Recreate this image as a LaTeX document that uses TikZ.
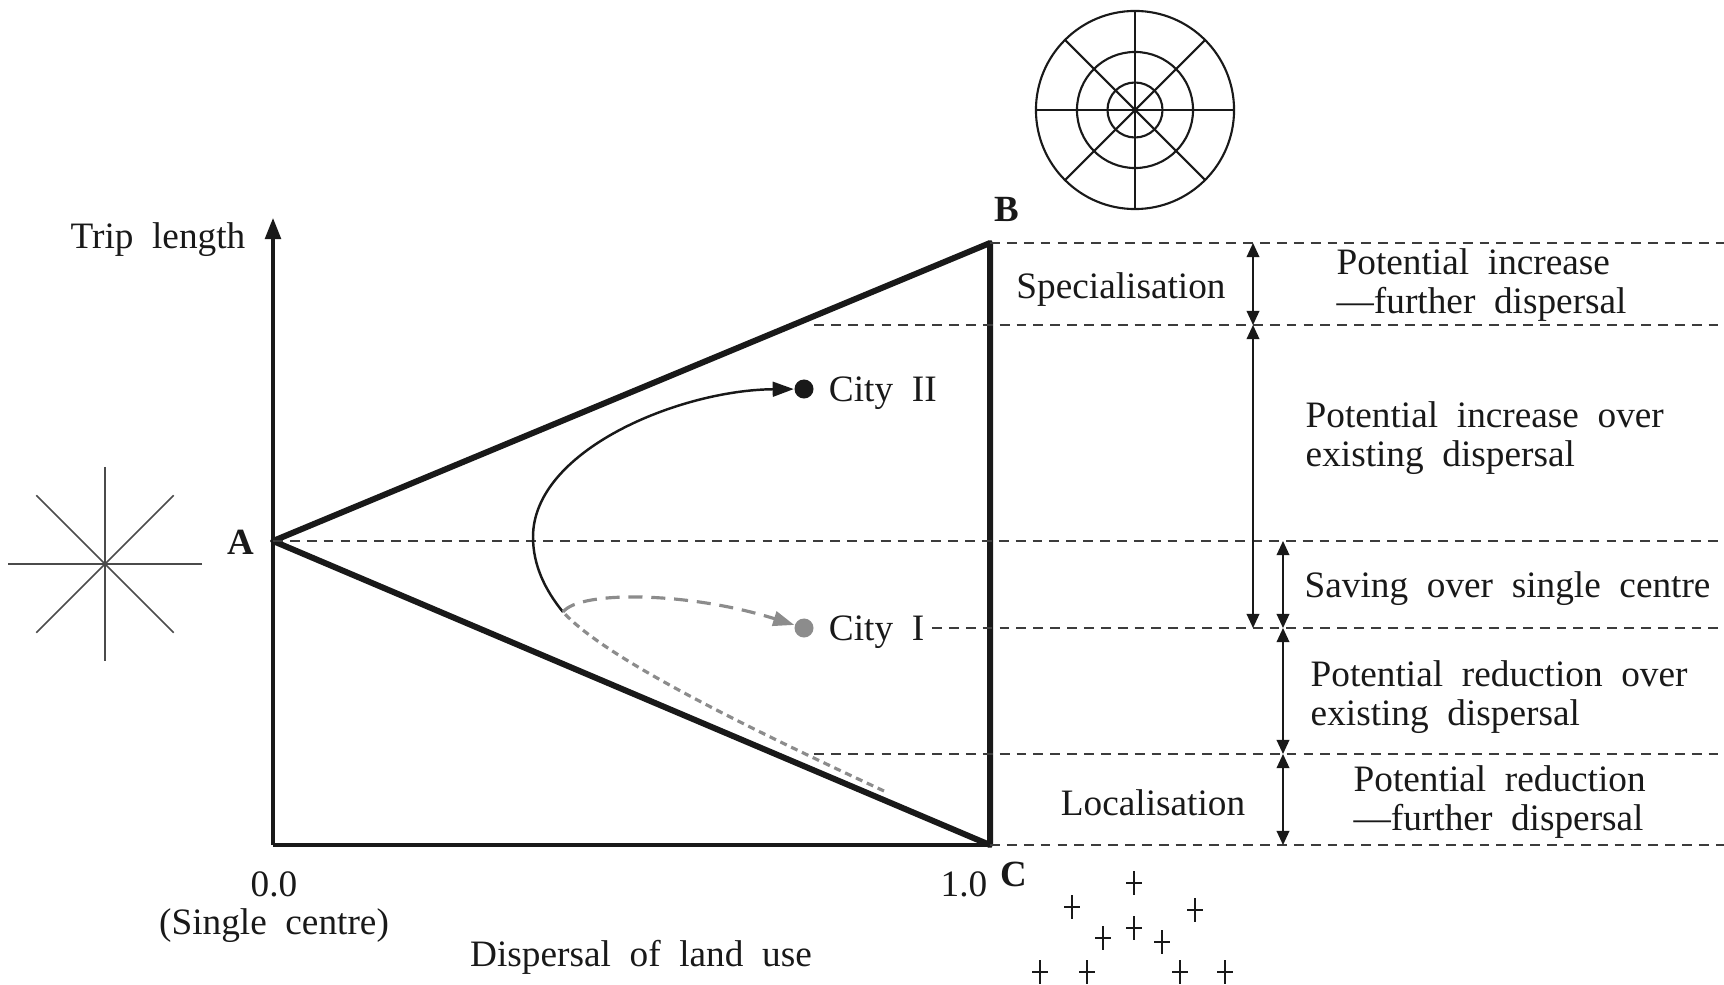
\documentclass[tikz,border=0pt]{standalone}
\usepackage{fontspec}
\setmainfont{Liberation Serif}[WordSpace=2]
\usepackage{xcolor}
\definecolor{figblack}{RGB}{25,25,25}
\definecolor{figgray}{RGB}{140,140,140}
\definecolor{figstar}{RGB}{75,75,75}
\usetikzlibrary{arrows.meta,positioning,calc}

\begin{document}
\begin{tikzpicture}[x=0.01cm, y=-0.01cm,
  lbl/.style={font=\fontsize{10.6}{11}\selectfont, inner sep=0pt, text=figblack, yshift=-1.1pt},
  corner/.style={font=\fontsize{10.5}{12}\selectfont\bfseries, inner sep=0pt, text=figblack},
  side/.style={draw=figblack, line width=1.7pt, line join=round},
  axis/.style={draw=figblack, line width=0.9pt},
  guide/.style={draw=figblack!85, line width=0.45pt, dash pattern=on 2.8pt off 2pt},
  span/.style={draw=figblack, line width=0.45pt, {Triangle[length=4pt,width=3.6pt]}-{Triangle[length=4pt,width=3.6pt]}},
  flow/.style={line width=0.7pt, -{Triangle[length=6pt,width=4.2pt]}},
  city/.style={circle, inner sep=0pt, minimum size=0.19cm},
  ]
  \useasboundingbox (0,0) rectangle (1724,985);

  % corners and levels
  \coordinate (A) at (273,541);
  \coordinate (B) at (990,243);
  \coordinate (C) at (990,845);
  \coordinate (O) at (273,845);
  \coordinate (top) at (273,218);
  \coordinate (E) at (1724,0);
  \coordinate (S) at (814,325);
  \coordinate (L) at (814,754);
  \coordinate (m1) at (1253,0);
  \coordinate (m2) at (1283,0);
  \coordinate (turn) at (563,612);
  \coordinate (tail) at (884,791);

  % axes and triangle
  \draw[axis, -{Triangle[length=6pt,width=4.5pt]}] (O) -- (top);
  \draw[axis] (O) -- (C);
  \draw[side] (A) -- (B) -- (C) -- cycle;

  % cities
  \node[city, fill=figblack] (dotII) at (804,389) {};
  \node[city, fill=figgray] (dotI) at (804,628) {};
  \node[lbl, right=4pt of dotII] (cityII) {City II};
  \node[lbl, right=4pt of dotI] (cityI) {City I};

  % dashed levels
  \draw[guide] (B) -- (B -| E);
  \draw[guide] (S) -- (S -| E);
  \draw[guide] (A) -- (A -| E);
  \draw[guide] ([xshift=2pt]cityI.east |- dotI) -- (dotI -| E);
  \draw[guide] (L) -- (L -| E);
  \draw[guide] (C) -- (C -| E);

  % spans
  \draw[span] (B -| m1) -- (S -| m1);
  \draw[span] (S -| m1) -- (dotI -| m1);
  \draw[span] (A -| m2) -- (dotI -| m2);
  \draw[span] (dotI -| m2) -- (L -| m2);
  \draw[span] (L -| m2) -- (C -| m2);

  % paths
  \draw[flow, figblack] (turn) .. controls (545,590) and (533,565) .. (533,537) .. controls (533,450) and (680,390) .. (dotII);
  \draw[figgray, line width=0.9pt, dash pattern=on 2pt off 1.4pt] (tail) .. controls (705,708) and (600,652) .. (turn);
  \draw[flow, figgray, line width=0.9pt, dash pattern=on 4pt off 2.5pt] (turn) .. controls (580,590) and (690,592) .. (dotI);

  % radial city
  \begin{scope}[shift={(1135,110)}, line width=0.6pt, figblack]
    \draw (0,0) circle (0.99cm) (0,0) circle (0.58cm) (0,0) circle (0.275cm);
    \foreach \a in {0,45,...,135}
      \draw (\a:0.99cm) -- (\a+180:0.99cm);
  \end{scope}

  % single centre star
  \begin{scope}[shift={(105,564)}, line width=0.5pt, figstar]
    \foreach \a in {0,45,...,135}
      \draw (\a:0.97cm) -- (\a+180:0.97cm);
  \end{scope}

  % scattered centres
  \foreach \x/\y in {1134/883, 1072/907, 1195/910, 1103/938, 1134/928, 1162/942, 1040/972, 1087/972, 1180/972, 1225/972}
    \draw[line width=0.6pt, figblack] (\x,\y) ++(-8,0) -- ++(16,0) (\x,\y) ++(0,-12) -- ++(0,24);

  % labels
  \node[lbl, anchor=east] (ylab) at (246,236) {Trip length};
  \node[corner] (lblA) at (241,542) {A};
  \node[corner] (lblB) at (1007,209) {B};
  \node[corner] (lblC) at (1014,874) {C};
  \node[lbl] (zero) at (274,880) {0.0};
  \node[lbl] (single) at (274,922) {(Single centre)};
  \node[lbl] (one) at (964,880) {1.0};
  \node[lbl] (xlab) at (641,953) {Dispersal of land use};
  \node[lbl] (spec) at (1121,286) {Specialisation};
  \node[lbl] (local) at (1153,799) {Localisation};
  \node[lbl, anchor=west, align=left] (incF) at (1336,281) {Potential increase\\—further dispersal};
  \node[lbl, anchor=west, align=left] (incE) at (1305,434) {Potential increase over\\existing dispersal};
  \node[lbl, anchor=west] (save) at (1304,585) {Saving over single centre};
  \node[lbl, anchor=west, align=left] (redE) at (1310,693) {Potential reduction over\\existing dispersal};
  \node[lbl, anchor=west, align=left] (redF) at (1353,798) {Potential reduction\\—further dispersal};
\end{tikzpicture}
\end{document}
